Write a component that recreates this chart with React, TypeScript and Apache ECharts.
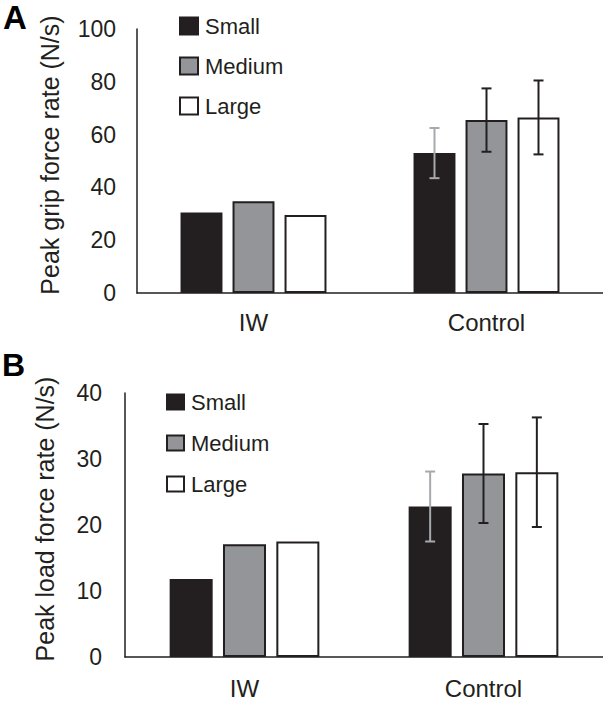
import React, { useEffect, useRef } from "react";
import * as echarts from "echarts";

const categories = ["IW", "Control"];
const sizes = ["Small", "Medium", "Large"];

// Panel A: Peak grip force rate (N/s)
const gripSmall = [30.5, 53];
const gripMedium = [34.8, 65.5];
const gripLarge = [29.5, 66.5];
const gripErrSmall = [null, 9.5];
const gripErrMedium = [null, 12];
const gripErrLarge = [null, 14];

// Panel B: Peak load force rate (N/s)
const loadSmall = [11.8, 22.8];
const loadMedium = [17.1, 27.8];
const loadLarge = [17.5, 28.0];
const loadErrSmall = [null, 5.3];
const loadErrMedium = [null, 7.5];
const loadErrLarge = [null, 8.3];

const gripTicks = { min: 0, max: 100, interval: 20 };
const loadTicks = { min: 0, max: 40, interval: 10 };

const FONT = "'Liberation Sans', Arial, Helvetica, sans-serif";
const INK = "#231f20";
const fills = [INK, "#939598", "#ffffff"];
const errColors = ["#a7a9ac", INK, INK];

const BAR_FRAC = 0.18;
const GAP_FRAC = 0.24;

function errSeries(name: string, idx: number, means: number[], errs: (number | null)[], axis: number) {
  const data: number[][] = [];
  means.forEach((m, i) => {
    const e = errs[i];
    if (e != null) data.push([i, m, e]);
  });
  return {
    type: "custom",
    name: "err" + name + axis,
    xAxisIndex: axis,
    yAxisIndex: axis,
    z: 5,
    silent: true,
    data,
    encode: { x: 0, y: 1 },
    renderItem: (params: any, api: any) => {
      const ci = api.value(0);
      const m = api.value(1);
      const e = api.value(2);
      const band = api.size([1, 0])[0];
      const bw = band * BAR_FRAC;
      const off = (idx - 1) * bw * (1 + GAP_FRAC);
      const top = api.coord([ci, m + e]);
      const bot = api.coord([ci, m - e]);
      const x = top[0] + off;
      const cap = 5;
      const style = { stroke: errColors[idx], lineWidth: 2 };
      return {
        type: "group",
        children: [
          { type: "line", shape: { x1: x, y1: top[1], x2: x, y2: bot[1] }, style },
          { type: "line", shape: { x1: x - cap, y1: top[1], x2: x + cap, y2: top[1] }, style },
          { type: "line", shape: { x1: x - cap, y1: bot[1], x2: x + cap, y2: bot[1] }, style },
        ],
      };
    },
  };
}

function barSeries(name: string, idx: number, values: number[], axis: number) {
  return {
    type: "bar",
    name,
    xAxisIndex: axis,
    yAxisIndex: axis,
    data: values,
    barWidth: BAR_FRAC * 100 + "%",
    barGap: GAP_FRAC * 100 + "%",
    itemStyle: { color: fills[idx], borderColor: INK, borderWidth: 2 },
  };
}

export default function App() {
  const ref = useRef<HTMLDivElement>(null);
  useEffect(() => {
    if (!ref.current) return;
    const chart = echarts.init(ref.current, undefined, { renderer: "svg" });
    const axisLine = { show: true, lineStyle: { color: INK, width: 1.5 } };
    const yAxisCommon = (name: string, t: any, gap: number, margin: number) => ({
      type: "value",
      min: t.min,
      max: t.max,
      interval: t.interval,
      name,
      nameLocation: "middle",
      nameGap: gap,
      nameTextStyle: { fontFamily: FONT, fontSize: 25, color: INK, padding: [0, 0, 0, 12] },
      axisLine,
      axisTick: { show: false },
      splitLine: { show: false },
      axisLabel: { fontFamily: FONT, fontSize: 23, color: INK, margin },
    });
    const xAxisCommon = (margin: number) => ({
      type: "category",
      data: categories,
      axisLine,
      axisTick: { show: false },
      axisLabel: { fontFamily: FONT, fontSize: 24, color: INK, margin },
    });
    const legendCommon = (left: number, top: number, w: number, h: number, gap: number) => ({
      data: sizes,
      orient: "vertical",
      left,
      top,
      padding: 0,
      icon: "rect",
      itemWidth: w,
      itemHeight: h,
      itemGap: gap,
      selectedMode: false,
      textStyle: { fontFamily: FONT, fontSize: 22, color: INK, padding: [0, 0, 0, 2] },
    });
    chart.setOption({
      animation: false,
      backgroundColor: "#ffffff",
      textStyle: { fontFamily: FONT },
      grid: [
        { left: 137, top: 29, width: 466, height: 264, containLabel: false },
        { left: 125, top: 393, width: 478, height: 264, containLabel: false },
      ],
      xAxis: [
        { ...xAxisCommon(17), gridIndex: 0 },
        { ...xAxisCommon(19), gridIndex: 1 },
      ],
      yAxis: [
        { ...yAxisCommon("Peak grip force rate (N/s)", gripTicks, 75, 21), gridIndex: 0 },
        { ...yAxisCommon("Peak load force rate (N/s)", loadTicks, 68, 23), gridIndex: 1 },
      ],
      legend: [legendCommon(179, 15, 18, 17, 18), legendCommon(166, 391, 17, 15, 19)],
      graphic: [
        { type: "text", left: 3, top: 1, style: { text: "A", font: "bold 33px " + FONT, fill: "#000" } },
        { type: "text", left: 2, top: 349, style: { text: "B", font: "bold 32px " + FONT, fill: "#000" } },
      ],
      series: [
        barSeries("Small", 0, gripSmall, 0),
        barSeries("Medium", 1, gripMedium, 0),
        barSeries("Large", 2, gripLarge, 0),
        errSeries("Small", 0, gripSmall, gripErrSmall, 0),
        errSeries("Medium", 1, gripMedium, gripErrMedium, 0),
        errSeries("Large", 2, gripLarge, gripErrLarge, 0),
        barSeries("Small", 0, loadSmall, 1),
        barSeries("Medium", 1, loadMedium, 1),
        barSeries("Large", 2, loadLarge, 1),
        errSeries("Small", 0, loadSmall, loadErrSmall, 1),
        errSeries("Medium", 1, loadMedium, loadErrMedium, 1),
        errSeries("Large", 2, loadLarge, loadErrLarge, 1),
      ],
    });
    return () => chart.dispose();
  }, []);
  return (
    <div
      ref={ref}
      style={{ position: "fixed", left: 0, top: 0, width: 603, height: 705, background: "#fff" }}
    />
  );
}
